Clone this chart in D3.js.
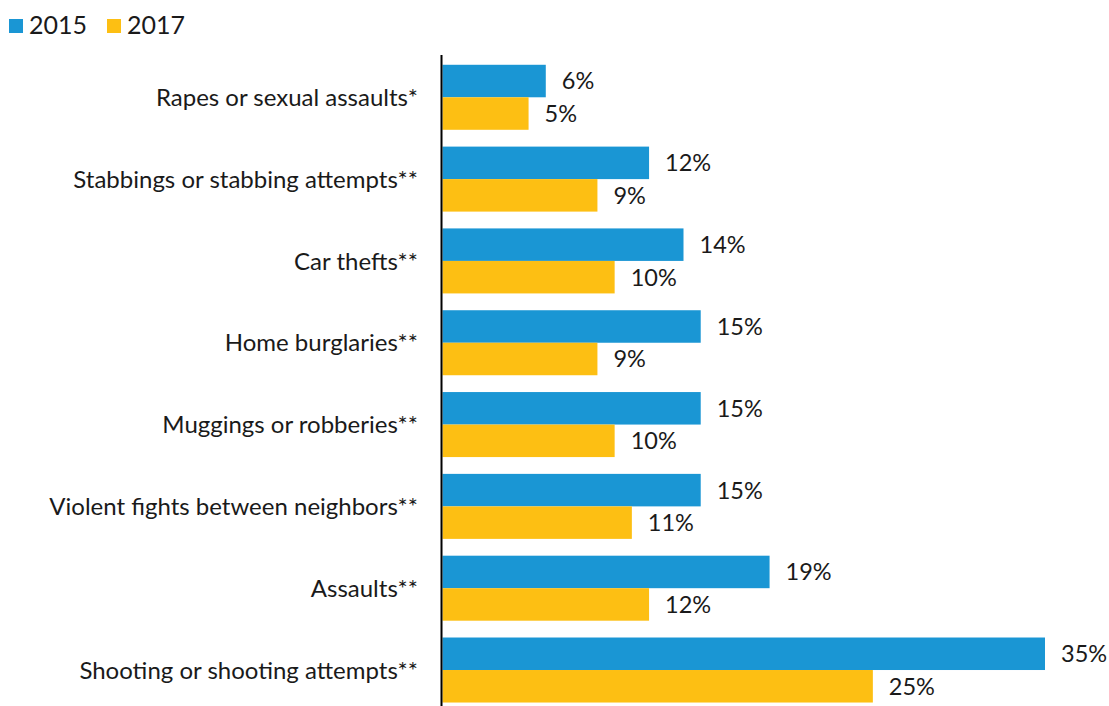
<!DOCTYPE html>
<html>
<head>
<meta charset="utf-8">
<script src="https://cdn.jsdelivr.net/npm/d3@7"></script>
<style>
  html, body { margin: 0; padding: 0; background: #fff; }
  svg { display: block; font-family: Lato, "Noto Sans", sans-serif; }
</style>
</head>
<body>
<svg id="chart" width="1109" height="706"></svg>
<script>
// Crime types, top to bottom
const categories = [
  "Rapes or sexual assaults*",
  "Stabbings or stabbing attempts**",
  "Car thefts**",
  "Home burglaries**",
  "Muggings or robberies**",
  "Violent fights between neighbors**",
  "Assaults**",
  "Shooting or shooting attempts**"
];
const seriesNames = ["2015", "2017"];
const values2015 = [6, 12, 14, 15, 15, 15, 19, 35];
const values2017 = [5, 9, 10, 9, 10, 11, 12, 25];
const colors = ["#1a96d4", "#fdbf13"];

const svg = d3.select("#chart");
const axisX = 441.5;
const barLeft = 442.5;

const x = d3.scaleLinear().domain([0, 35]).range([barLeft, 1045]);
const y = d3.scaleBand().domain(categories).range([56.6, 710.7]).paddingInner(0.2055).paddingOuter(0.1);
const inner = d3.scaleBand().domain(seriesNames).range([0, y.bandwidth()]);

const rows = categories.map((c, i) => ({ cat: c, vals: [values2015[i], values2017[i]] }));

const g = svg.selectAll("g.row").data(rows).join("g")
  .attr("class", "row")
  .attr("transform", d => `translate(0,${y(d.cat)})`);

g.selectAll("rect").data(d => d.vals.map((v, k) => ({ v, k }))).join("rect")
  .attr("x", barLeft)
  .attr("y", d => inner(seriesNames[d.k]))
  .attr("width", d => x(d.v) - barLeft)
  .attr("height", inner.bandwidth())
  .attr("fill", d => colors[d.k]);

g.selectAll("text.val").data(d => d.vals.map((v, k) => ({ v, k }))).join("text")
  .attr("class", "val")
  .attr("x", d => x(d.v) + 16)
  .attr("y", d => inner(seriesNames[d.k]) + inner.bandwidth() / 2)
  .attr("dy", "0.36em")
  .attr("font-size", 23.5)
  .attr("fill", "#1a1a1a")
  .text(d => d.v + "%");

// category labels
g.append("text")
  .attr("x", 418)
  .attr("y", y.bandwidth() / 2)
  .attr("dy", "0.36em")
  .attr("text-anchor", "end")
  .attr("font-size", 24)
  .attr("fill", "#1a1a1a")
  .text(d => d.cat);

// vertical baseline
svg.append("line")
  .attr("x1", axisX).attr("x2", axisX)
  .attr("y1", 55).attr("y2", 706)
  .attr("stroke", "#000").attr("stroke-width", 2);

// legend
const legendX = [9, 107];
const leg = svg.selectAll("g.leg").data(seriesNames).join("g")
  .attr("class", "leg")
  .attr("transform", (d, i) => `translate(${legendX[i]},0)`);
leg.append("rect").attr("x", 0).attr("y", 19).attr("width", 14).attr("height", 14)
  .attr("fill", (d, i) => colors[i]);
leg.append("text").attr("x", 20).attr("y", 34)
  .attr("font-size", 25).attr("fill", "#1a1a1a")
  .text(d => d);
</script>
</body>
</html>
